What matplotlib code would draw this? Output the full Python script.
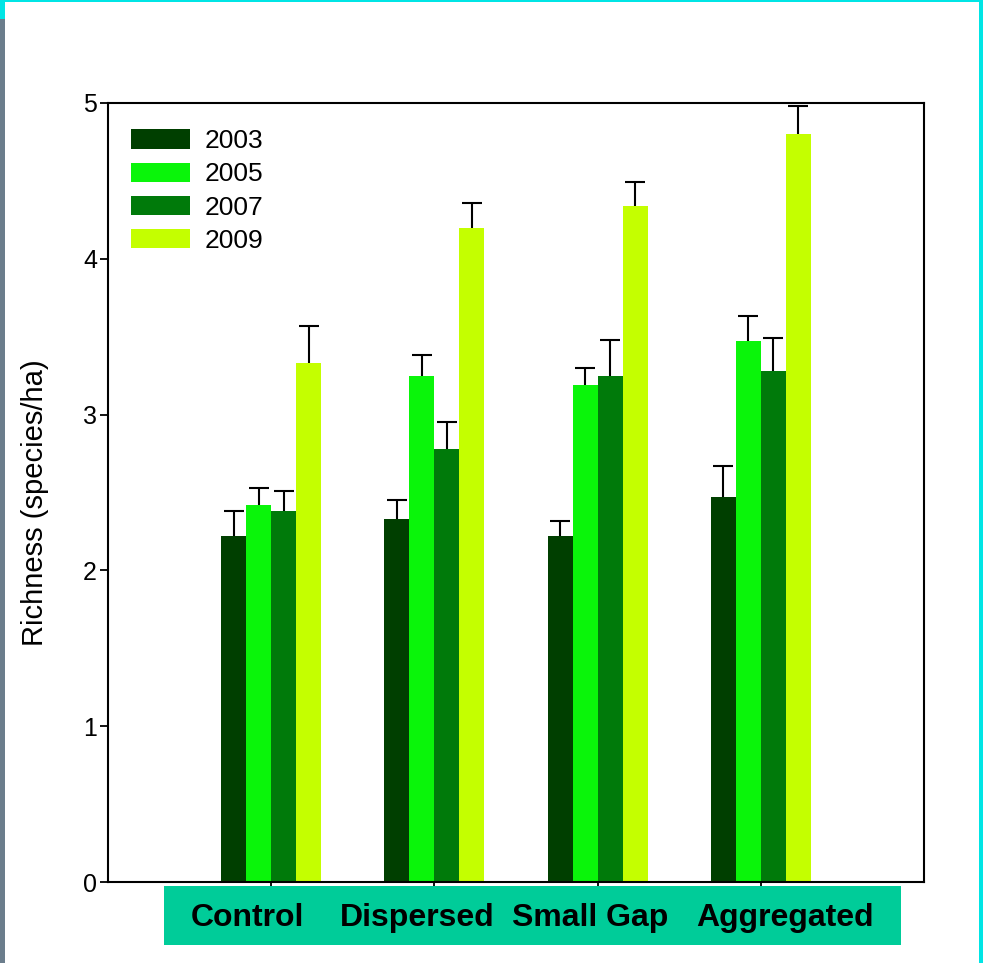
import numpy as np
import matplotlib
matplotlib.use('Agg')
matplotlib.rcParams['font.family'] = ['Liberation Sans', 'DejaVu Sans']
import matplotlib.pyplot as plt
from matplotlib.patches import Rectangle

# treatments and survey years
treatments = ['Control', 'Dispersed', 'Small Gap', 'Aggregated']
years = ['2003', '2005', '2007', '2009']

# mean richness (species/ha) per year, one value per treatment
rich_2003 = [2.22, 2.33, 2.22, 2.47]
rich_2005 = [2.42, 3.25, 3.19, 3.47]
rich_2007 = [2.38, 2.78, 3.25, 3.28]
rich_2009 = [3.33, 4.20, 4.34, 4.80]

# standard errors (upper bar only)
se_2003 = [0.16, 0.12, 0.10, 0.20]
se_2005 = [0.11, 0.13, 0.11, 0.16]
se_2007 = [0.13, 0.17, 0.23, 0.21]
se_2009 = [0.24, 0.16, 0.15, 0.18]

means = [rich_2003, rich_2005, rich_2007, rich_2009]
errs = [se_2003, se_2005, se_2007, se_2009]
colors = ['#003f00', '#0af50a', '#007a0a', '#c4ff00']

W, H = 983, 963
fig = plt.figure(figsize=(W / 100, H / 100), dpi=100)
fig.patch.set_facecolor('white')

ax = fig.add_axes([108 / W, 1 - 882 / H, (924 - 108) / W, (882 - 103) / H])

x = np.arange(1, len(treatments) + 1)
bw = 0.153
offsets = (np.arange(len(years)) - 1.5) * bw
for k, yr in enumerate(years):
    ax.bar(x + offsets[k], means[k], width=bw, color=colors[k], label=yr,
           linewidth=0, zorder=2)
    _, caps, _ = ax.errorbar(x + offsets[k], means[k],
                             yerr=[np.zeros(len(x)), errs[k]],
                             fmt='none', ecolor='black', elinewidth=1.5,
                             capsize=7.5, capthick=1.5, zorder=3)
    # only the upper cap is shown
    caps[0].set_visible(False)

ax.set_xlim(0, 5)
ax.set_ylim(0, 5)
ax.set_xticks(x)
ax.set_xticklabels([])
ax.set_yticks(range(6))
ax.tick_params(axis='y', direction='out', length=6, width=1.3, labelsize=18, pad=2)
ax.tick_params(axis='x', direction='out', length=8, width=1.3)
for sp in ax.spines.values():
    sp.set_linewidth(1.5)

ax.set_ylabel('Richness (species/ha)', fontsize=21)
ax.yaxis.set_label_coords(-0.072, 0.487)

leg = ax.legend(loc='upper left', bbox_to_anchor=(0.005, 0.99), frameon=False,
                fontsize=19, handlelength=2.25, handleheight=0.75,
                handletextpad=0.55, labelspacing=0.35, borderaxespad=0.3)

# teal label band under the axis
fig.patches.append(Rectangle((164 / W, 1 - 945 / H), (901 - 164) / W, (945 - 886) / H,
                             transform=fig.transFigure, facecolor='#00cc99',
                             edgecolor='none', zorder=5))
label_x = [247, 417, 590, 785]
for name, lx in zip(treatments, label_x):
    fig.text(lx / W, 1 - 918 / H, name, ha='center', va='center',
             fontsize=23, fontweight='bold', color='black', zorder=6)

# slide border pieces
fig.patches.append(Rectangle((0, 1 - 2 / H), 1, 2 / H, transform=fig.transFigure,
                             facecolor='#00e5e5', edgecolor='none'))
fig.patches.append(Rectangle((979 / W, 0), 4 / W, 1, transform=fig.transFigure,
                             facecolor='#00e5e5', edgecolor='none'))
fig.patches.append(Rectangle((0, 0), 5 / W, 1 - 19 / H, transform=fig.transFigure,
                             facecolor='#6b7d8c', edgecolor='none'))
fig.patches.append(Rectangle((0, 1 - 19 / H), 5 / W, 19 / H, transform=fig.transFigure,
                             facecolor='#00e5e5', edgecolor='none'))

fig.savefig('out.png', dpi=100, facecolor='white')
